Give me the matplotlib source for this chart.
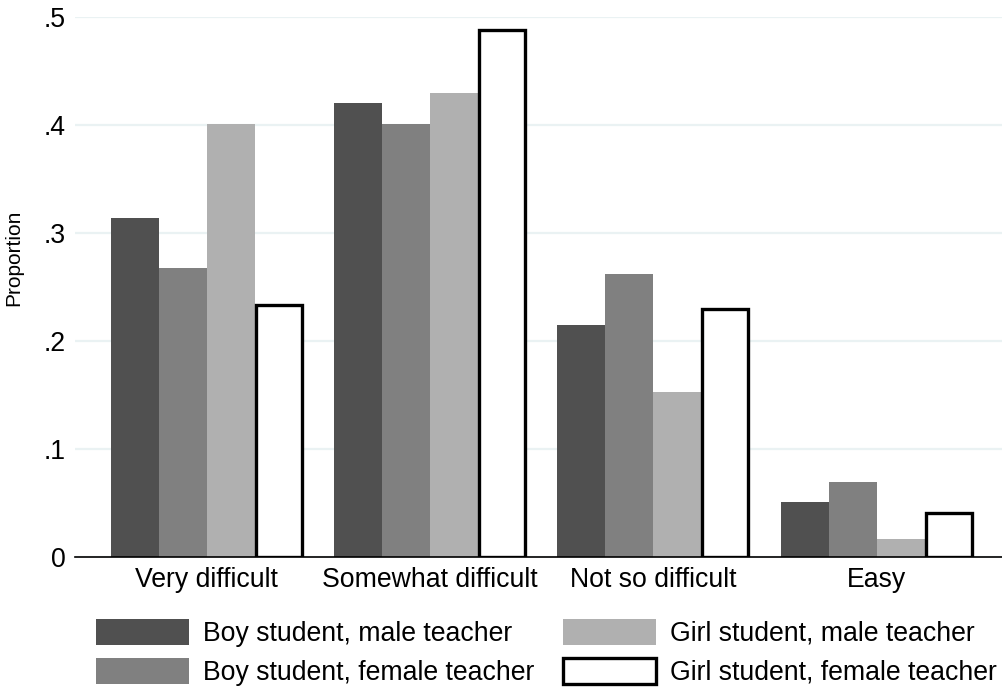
import matplotlib
matplotlib.use("Agg")
import matplotlib.pyplot as plt
from matplotlib.patches import Rectangle
import numpy as np

plt.rcParams['font.family'] = ['Liberation Sans', 'DejaVu Sans']

categories = ["Very difficult", "Somewhat difficult", "Not so difficult", "Easy"]
series_names = ["Boy student, male teacher", "Boy student, female teacher",
                "Girl student, male teacher", "Girl student, female teacher"]
boy_male = [0.314, 0.420, 0.215, 0.051]
boy_female = [0.268, 0.401, 0.262, 0.069]
girl_male = [0.401, 0.430, 0.153, 0.017]
girl_female = [0.233, 0.488, 0.230, 0.041]
yticks = [0, 0.1, 0.2, 0.3, 0.4, 0.5]
yticklabels = ["0", ".1", ".2", ".3", ".4", ".5"]

series = [boy_male, boy_female, girl_male, girl_female]
facecolors = ["#505050", "#808080", "#b0b0b0", "#ffffff"]
edgecolors = ["none", "none", "none", "#000000"]
linewidths = [0, 0, 0, 2.4]

fig = plt.figure(figsize=(10.03, 6.89), dpi=100)
ax = fig.add_axes([75/1003, 1-557/689, 1-75/1003, (557-17)/689])

x = np.arange(len(categories))
w = 0.215
handles = []
for i, (vals, fc, ec, lw) in enumerate(zip(series, facecolors, edgecolors, linewidths)):
    offs = (i - 1.5) * w
    bw = w if lw == 0 else w * 0.955
    ax.bar(x + offs, vals, width=bw, color=fc, edgecolor=ec, linewidth=lw, zorder=3)
    handles.append(Rectangle((0, 0), 1, 1, facecolor=fc, edgecolor=ec, linewidth=lw))

ax.set_xlim(-0.589, 3.565)
ax.set_ylim(0, 0.5)
ax.set_yticks(yticks)
ax.set_yticklabels(yticklabels)
ax.set_xticks(x)
ax.set_xticklabels(categories)
ax.tick_params(axis='both', length=0, labelsize=19.2)
ax.tick_params(axis='y', pad=7)
ax.tick_params(axis='x', pad=7)
ax.yaxis.grid(True, color="#eaf2f3", linewidth=1.6, zorder=0)
for s in ["top", "right", "left"]:
    ax.spines[s].set_visible(False)
ax.spines["bottom"].set_linewidth(1.2)
ax.spines["bottom"].set_zorder(4)
ax.set_ylabel("Proportion", fontsize=15)
ax.yaxis.set_label_coords(-(75-23)/(1003-75), (557-258)/540)

fig.legend(handles, series_names, ncol=2, loc='upper left',
           bbox_to_anchor=(96/1003, 1-619/689), frameon=False, fontsize=19.2,
           borderpad=0, borderaxespad=0, handlelength=3.48, handleheight=1.1,
           handletextpad=0.52, columnspacing=1.1, labelspacing=0.42)

fig.savefig("out.png", dpi=100, facecolor="white")
